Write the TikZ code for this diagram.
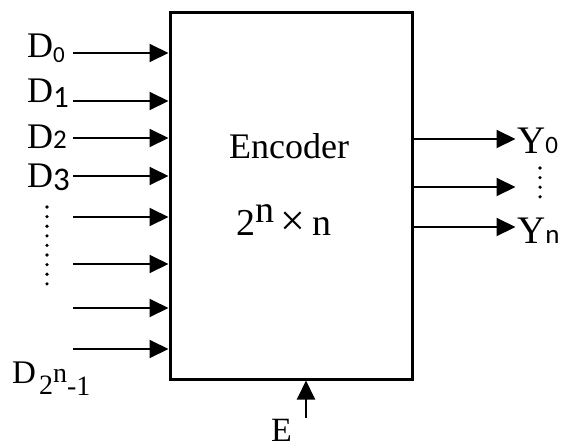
\documentclass[tikz,border=0pt]{standalone}
\usepackage{fontspec}
\setmainfont{Liberation Serif}
\newfontfamily\carlito{Carlito}
\usetikzlibrary{arrows.meta}
\newcommand\subsf[2]{{\fontsize{#1}{#1}\carlito #2}}
\newcommand\sz[1]{\fontsize{#1}{#1}\selectfont}
\begin{document}
\begin{tikzpicture}[x=1pt,y=-1pt,
  lbl/.style={inner sep=0pt, anchor=base west, font=\sz{36}},
  arr/.style={line width=2pt, -{Triangle[length=19pt,width=18pt]}},
  blockbox/.style={draw, line width=3pt, minimum width=242pt, minimum height=367pt, inner sep=0pt},
  dotc/.style={fill=black, draw=none}
]
\useasboundingbox (0,0) rectangle (561,447);
% block
\node[blockbox] (enc) at (291,195.5) {};
\node[lbl, font=\sz{36}] (title) at (229,158) {Encoder};
\node[lbl, font=\sz{38}] (size) at (236,235) {2\raisebox{13pt}{n}\hspace{6pt}{\sz{44}×}\hspace{7pt}n};
% inputs
\foreach \nm/\yy in {i0/53, i1/101, i2/138, i3/176, i4/217, i5/264, i6/308, i7/349}{
  \coordinate (\nm) at (73,\yy);
  \draw[arr] (\nm) -- (\nm -| enc.west);
}
\node[lbl] (d0) at (27,57) {D\raisebox{-5pt}{\subsf{23}{0}}};
\node[lbl] (d1) at (27,102) {D\raisebox{-5pt}{\subsf{31}{1}}};
\node[lbl] (d2) at (27,148) {D\subsf{27}{2}};
\node[lbl] (d3) at (27,187) {D\raisebox{-3pt}{\subsf{33}{3}}};
\node[lbl, font=\sz{33}] (dn) at (12,383) {D\hspace{3pt}\raisebox{-11pt}{\sz{28}2}\raisebox{1pt}{\sz{28}n}\raisebox{-12pt}{\sz{28}-1}};
\foreach \k in {0,...,8}{
  \fill[dotc] (47,207+9.6*\k) circle (1.8pt);
}
% outputs
\foreach \nm/\yy in {o0/139, o1/187, o2/227}{
  \coordinate (\nm) at (412,\yy);
}
\draw[arr] (o0 -| enc.east) -- ++(102,0) coordinate (t0);
\draw[arr] (o1 -| enc.east) -- ++(102,0) coordinate (t1);
\draw[arr] (o2 -| enc.east) -- ++(102,0) coordinate (t2);
\node[lbl, font=\sz{39}] (y0) at (517,153) {Y\subsf{25}{0}};
\node[lbl, font=\sz{39}] (yn) at (517,243) {Y\subsf{27}{n}};
\foreach \k in {0,...,3}{
  \fill[dotc] (540,168+9.6*\k) circle (1.8pt);
}
% enable
\coordinate (e0) at (306,418);
\draw[arr] (e0) -- (e0 |- enc.south);
\node[lbl, font=\sz{34}] (elbl) at (271,441) {E};
\end{tikzpicture}
\end{document}
